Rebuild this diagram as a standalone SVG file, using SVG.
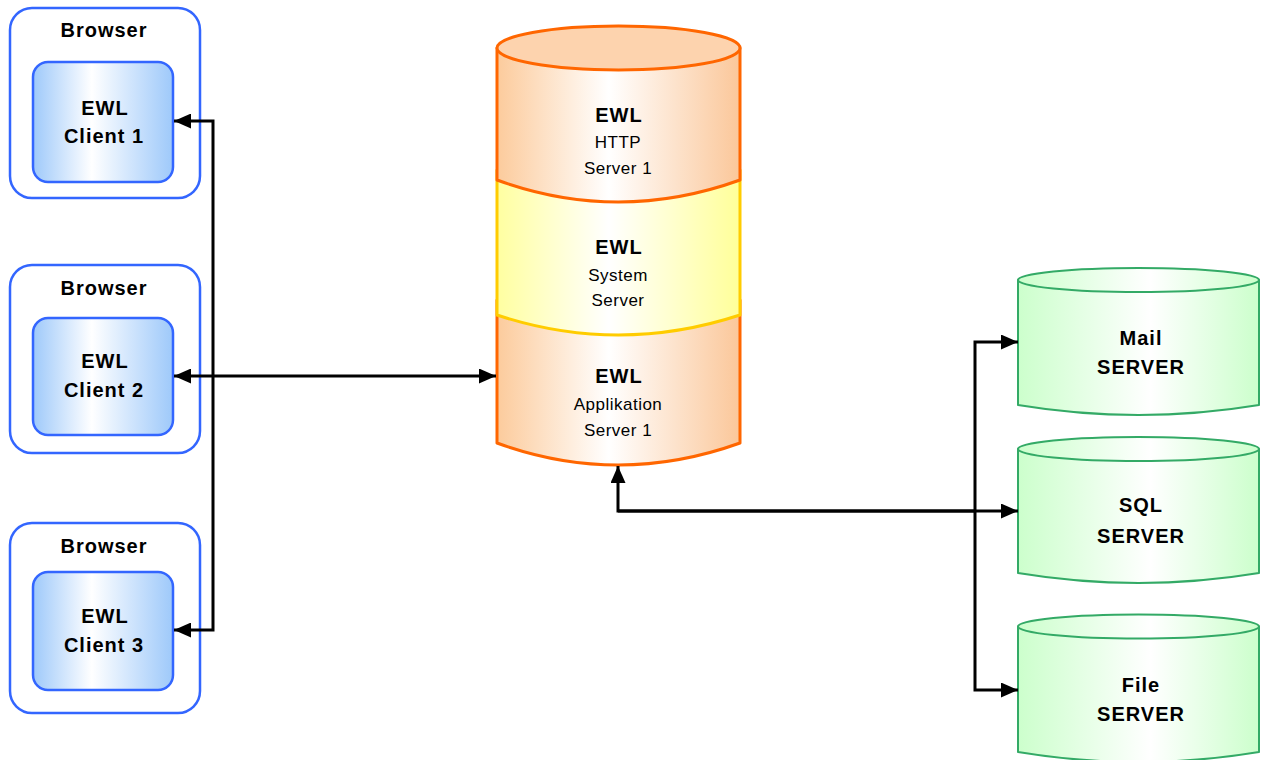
<svg xmlns="http://www.w3.org/2000/svg" width="1261" height="760" viewBox="0 0 1261 760">
<style>
text{font-family:"Liberation Sans",Arial,sans-serif;fill:#000;text-anchor:middle}
.b{font-weight:bold;font-size:20px;letter-spacing:1px}
.r{font-size:17px;letter-spacing:0.5px}
.outer{fill:#fff;stroke:#3366ff;stroke-width:2.5}
.inner{fill:url(#gBlue);stroke:#3366ff;stroke-width:2.5}
.org{fill:url(#gOrange);stroke:#ff6600;stroke-width:3;stroke-linejoin:round}
.yel{fill:url(#gYellow);stroke:#ffcc00;stroke-width:3;stroke-linejoin:round}
.grn{fill:url(#gGreen);stroke:#33aa66;stroke-width:2;stroke-linejoin:round}
.grnTop{fill:url(#gGreen);stroke:#33aa66;stroke-width:2}
.conn path{fill:none;stroke:#000;stroke-width:3}
</style>
<defs>
<linearGradient id="gBlue" x1="0" y1="0" x2="1" y2="0">
<stop offset="0" stop-color="#9ec9fa"/><stop offset="0.42" stop-color="#ffffff"/><stop offset="1" stop-color="#9ec9fa"/>
</linearGradient>
<linearGradient id="gOrange" x1="0" y1="0" x2="1" y2="0">
<stop offset="0" stop-color="#fccb9c"/><stop offset="0.46" stop-color="#ffffff"/><stop offset="1" stop-color="#fbc79a"/>
</linearGradient>
<linearGradient id="gYellow" x1="0" y1="0" x2="1" y2="0">
<stop offset="0" stop-color="#ffffa0"/><stop offset="0.46" stop-color="#ffffff"/><stop offset="1" stop-color="#ffff99"/>
</linearGradient>
<linearGradient id="gGreen" x1="0" y1="0" x2="1" y2="0">
<stop offset="0" stop-color="#ccffcc"/><stop offset="0.55" stop-color="#ffffff"/><stop offset="1" stop-color="#ccffcc"/>
</linearGradient>
<marker id="arr" viewBox="0 0 17 15" refX="17" refY="7.5" markerWidth="17" markerHeight="15" markerUnits="userSpaceOnUse" orient="auto-start-reverse">
<path d="M0,0 L17,7.5 L0,15 Z" fill="#000"/>
</marker>
</defs>

<g id="browser1">
<rect class="outer" x="10" y="8" width="190" height="190" rx="22"/>
<rect class="inner" x="33" y="62" width="140" height="120" rx="15"/>
<text class="b" x="104" y="36.5">Browser</text>
<text class="b" x="105" y="115">EWL</text>
<text class="b" x="104" y="143">Client 1</text>
</g>
<g id="browser2">
<rect class="outer" x="10" y="265" width="190" height="188" rx="22"/>
<rect class="inner" x="33" y="318" width="140" height="117" rx="15"/>
<text class="b" x="104" y="295">Browser</text>
<text class="b" x="105" y="368">EWL</text>
<text class="b" x="104" y="397">Client 2</text>
</g>
<g id="browser3">
<rect class="outer" x="10" y="523" width="190" height="190" rx="22"/>
<rect class="inner" x="33" y="572" width="140" height="118" rx="15"/>
<text class="b" x="104" y="553">Browser</text>
<text class="b" x="105" y="623">EWL</text>
<text class="b" x="104" y="652">Client 3</text>
</g>

<g id="appServer">
<path class="org" d="M497,300 L497,443 Q618,487 740,443 L740,300 Z"/>
<text class="b" x="619" y="383">EWL</text>
<text class="r" x="618" y="410">Applikation</text>
<text class="r" x="618" y="436">Server 1</text>
</g>
<g id="systemServer">
<path class="yel" d="M497,170 L497,315 Q618,355 740,315 L740,170 Z"/>
<text class="b" x="619" y="254">EWL</text>
<text class="r" x="618" y="280.5">System</text>
<text class="r" x="618" y="305.5">Server</text>
</g>
<g id="httpServer">
<path class="org" d="M497,48 L497,180 Q618,224 740,180 L740,48 Z"/>
<ellipse cx="618.5" cy="48" rx="121.5" ry="22" fill="#fdd3ae" stroke="#ff6600" stroke-width="3"/>
<text class="b" x="619" y="121.5">EWL</text>
<text class="r" x="618" y="148">HTTP</text>
<text class="r" x="618" y="174">Server 1</text>
</g>

<g id="mailServer">
<path class="grn" d="M1018,280 L1018,405 Q1138.5,425 1259,405 L1259,280 Z"/>
<ellipse class="grnTop" cx="1138.5" cy="280" rx="120.5" ry="12"/>
<text class="b" x="1141" y="345">Mail</text>
<text class="b" x="1141" y="374">SERVER</text>
</g>
<g id="sqlServer">
<path class="grn" d="M1018,449 L1018,573 Q1138.5,593 1259,573 L1259,449 Z"/>
<ellipse class="grnTop" cx="1138.5" cy="449" rx="120.5" ry="12"/>
<text class="b" x="1141" y="512">SQL</text>
<text class="b" x="1141" y="543">SERVER</text>
</g>
<g id="fileServer">
<path class="grn" d="M1018,626.5 L1018,752 Q1138.5,772 1259,752 L1259,626.5 Z"/>
<ellipse class="grnTop" cx="1138.5" cy="626.5" rx="120.5" ry="12"/>
<text class="b" x="1141" y="692">File</text>
<text class="b" x="1141" y="721">SERVER</text>
</g>

<g id="connectors" class="conn">
<path d="M213,376 L213,121 L174,121" marker-end="url(#arr)"/>
<path d="M213,376 L213,630 L174,630" marker-end="url(#arr)"/>
<path d="M174,376 L496,376" marker-start="url(#arr)" marker-end="url(#arr)"/>
<path d="M975,511 L618,511 L618,466" marker-end="url(#arr)"/>
<path d="M618,511 L1018,511" marker-end="url(#arr)"/>
<path d="M975,511 L975,342 L1018,342" marker-end="url(#arr)"/>
<path d="M975,511 L975,690 L1018,690" marker-end="url(#arr)"/>
</g>
</svg>
